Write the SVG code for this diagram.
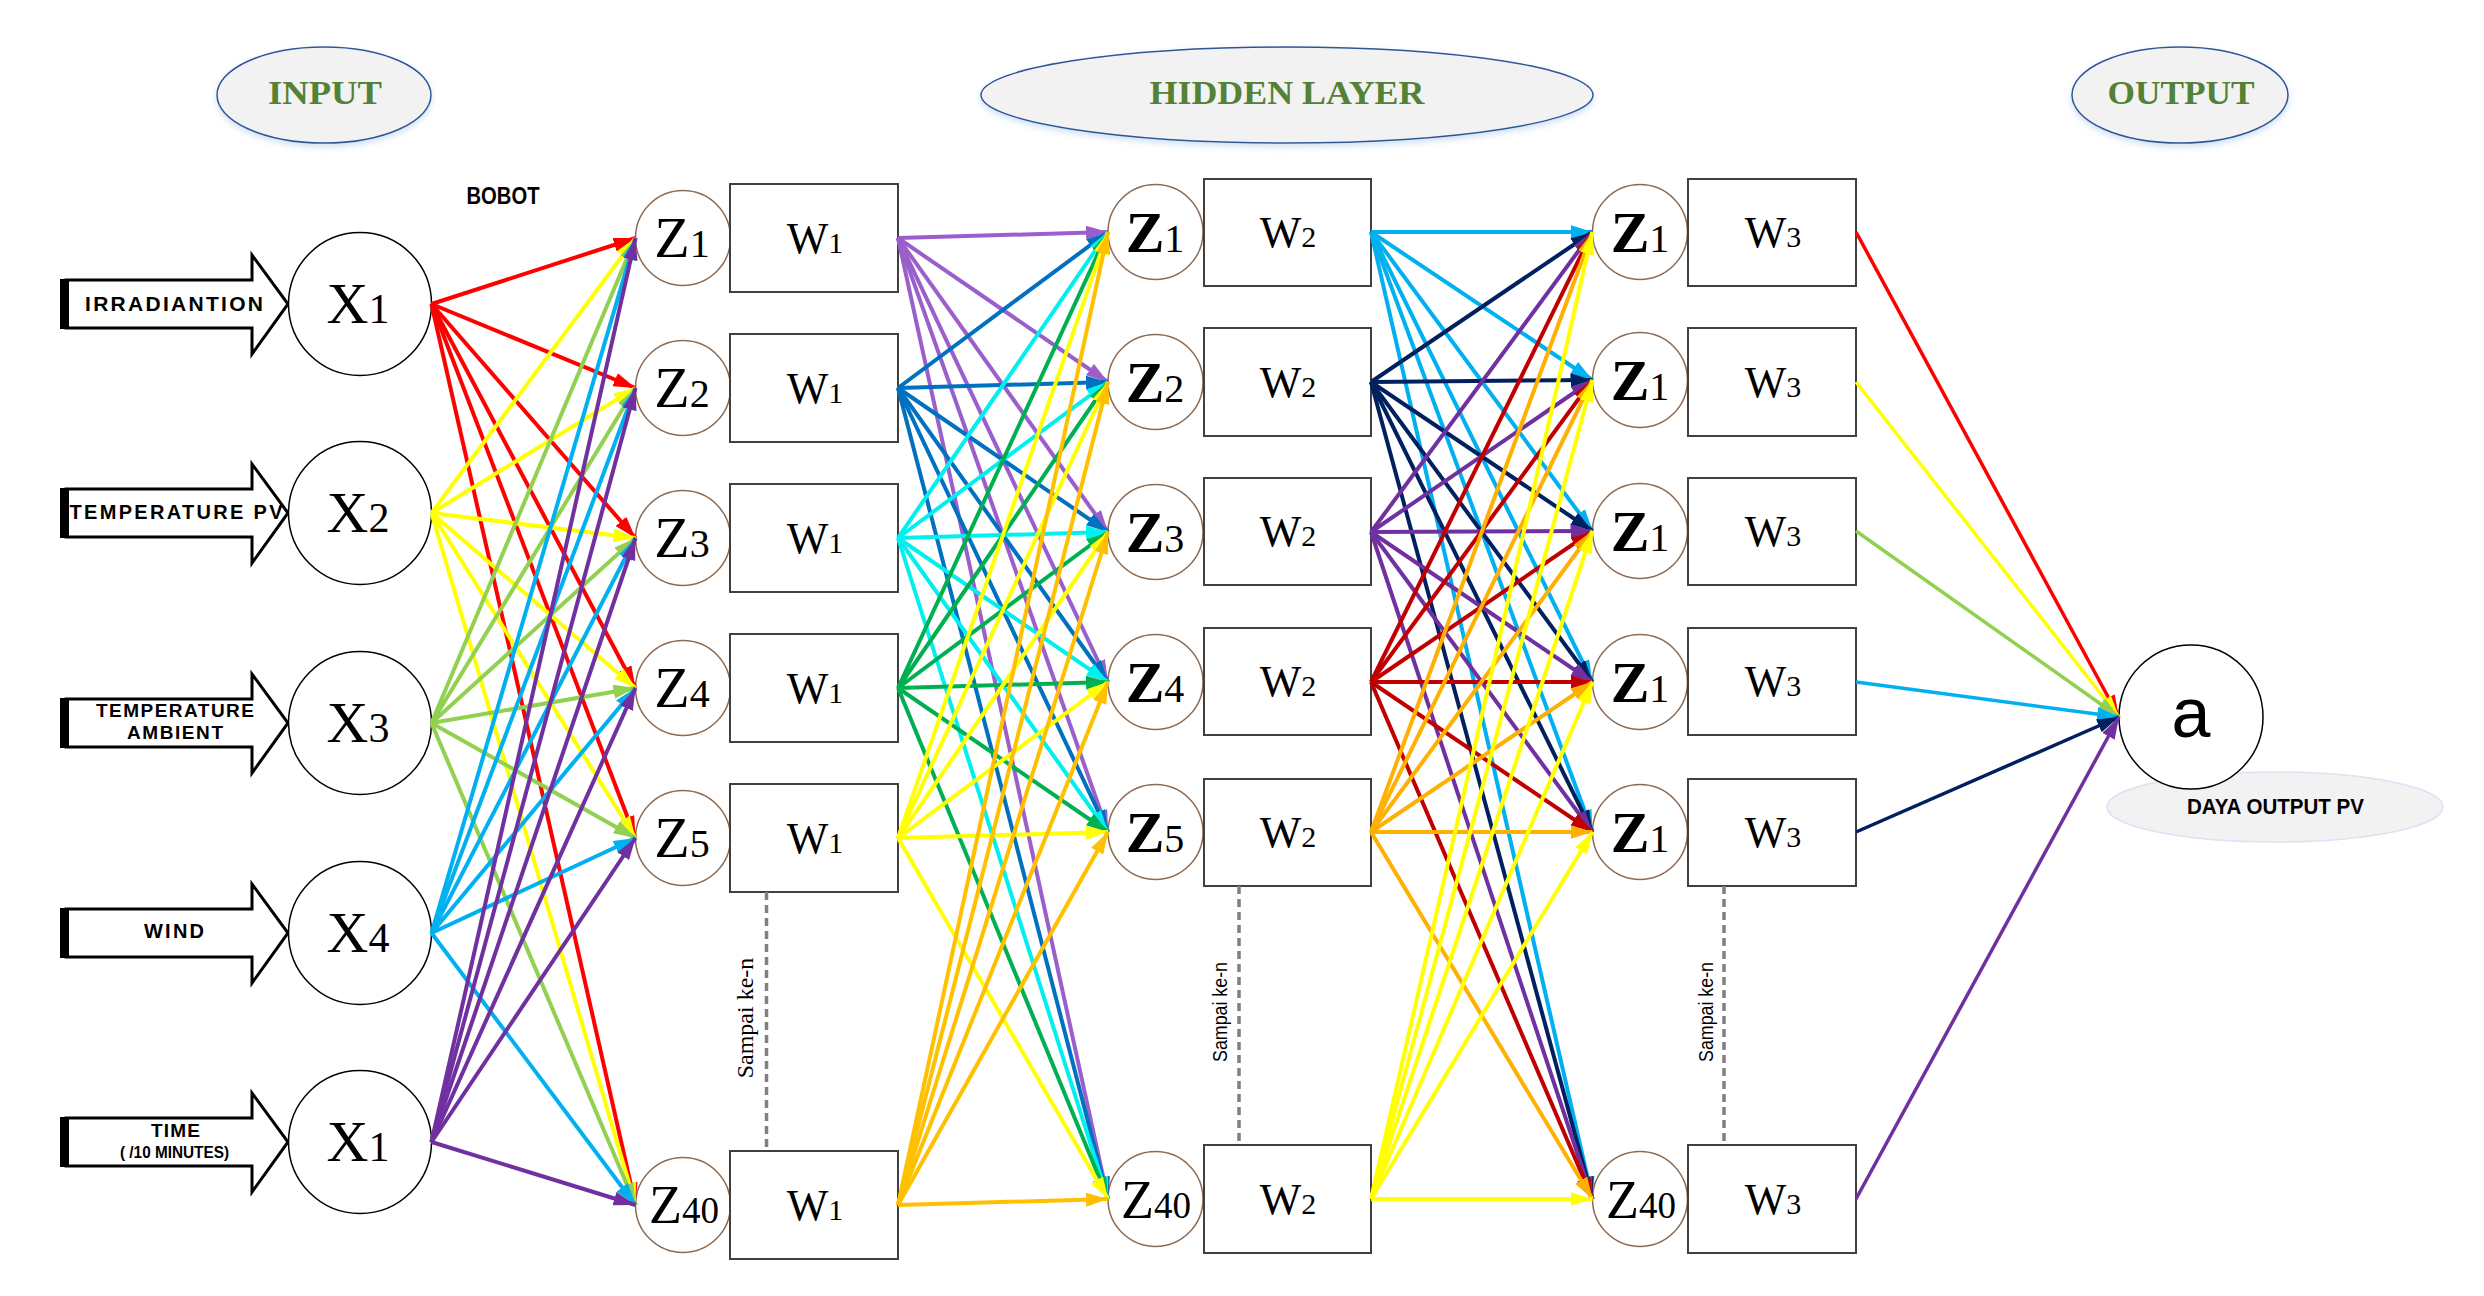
<svg xmlns="http://www.w3.org/2000/svg" xmlns:xlink="http://www.w3.org/1999/xlink" width="2484" height="1296" viewBox="0 0 2484 1296">
<style>
.hdr{fill:#F2F2F2;stroke:#2F5597;stroke-width:1.5}
.hdrt{font-family:"Liberation Serif",serif;font-weight:bold;font-size:33px;fill:#538135;text-anchor:middle}
.xc{fill:#fff;stroke:#000;stroke-width:1.5}
.zc{fill:#fff;stroke:#8E6A50;stroke-width:1.5}
.bx{fill:#fff;stroke:#404040;stroke-width:2}
.xl{font-family:"Liberation Serif",serif;font-size:58px;text-anchor:middle;fill:#000}
.xs{font-size:42px}
.zl{font-family:"Liberation Serif",serif;font-size:58px;text-anchor:middle;fill:#000}
.zb{font-weight:bold;font-size:58px}
.zs{font-size:40px;font-weight:normal}
.z40{font-size:54px}
.z40s{font-size:37px}
.wl{font-family:"Liberation Serif",serif;font-size:44px;text-anchor:middle;fill:#000}
.ws{font-size:30px}
.al{font-family:"Liberation Sans",Arial,sans-serif;font-weight:bold;text-anchor:middle;fill:#000}
.dash{stroke:#808080;stroke-width:3.5;stroke-dasharray:8 5}
.samp1{font-family:"Liberation Serif",serif;font-size:24px;text-anchor:middle;fill:#000}
.samp2{font-family:"Liberation Sans",Arial,sans-serif;font-size:20px;text-anchor:middle;fill:#000}
.conn line{stroke-width:4;fill:none}
.out line{stroke-width:3.5}
.red{stroke:#FF0000;marker-end:url(#m-red)}
.yel{stroke:#FFFF00;marker-end:url(#m-yel)}
.lgr{stroke:#92D050;marker-end:url(#m-lgr)}
.sky{stroke:#00B0F0;marker-end:url(#m-sky)}
.pur{stroke:#7030A0;marker-end:url(#m-pur)}
.mpu{stroke:#9B5FCB;marker-end:url(#m-mpu)}
.blu{stroke:#0070C0;marker-end:url(#m-blu)}
.cya{stroke:#00F0F0;marker-end:url(#m-cya)}
.grn{stroke:#00B050;marker-end:url(#m-grn)}
.org{stroke:#FFC000;marker-end:url(#m-org)}
.nav{stroke:#002060;marker-end:url(#m-nav)}
.drd{stroke:#C00000;marker-end:url(#m-drd)}
.orb{stroke:#FFB000;marker-end:url(#m-orb)}
</style>
<defs>
<filter id="sh" x="-10%" y="-20%" width="120%" height="150%">
<feDropShadow dx="0" dy="3" stdDeviation="3" flood-color="#9DC3E6" flood-opacity="0.5"/>
</filter>
<marker id="m-red" markerUnits="userSpaceOnUse" markerWidth="22" markerHeight="14" viewBox="0 0 22 14" refX="22" refY="7" orient="auto"><path d="M0,0 L22,7 L0,14 z" fill="#FF0000"/></marker>
<marker id="m-yel" markerUnits="userSpaceOnUse" markerWidth="22" markerHeight="14" viewBox="0 0 22 14" refX="22" refY="7" orient="auto"><path d="M0,0 L22,7 L0,14 z" fill="#FFFF00"/></marker>
<marker id="m-lgr" markerUnits="userSpaceOnUse" markerWidth="22" markerHeight="14" viewBox="0 0 22 14" refX="22" refY="7" orient="auto"><path d="M0,0 L22,7 L0,14 z" fill="#92D050"/></marker>
<marker id="m-sky" markerUnits="userSpaceOnUse" markerWidth="22" markerHeight="14" viewBox="0 0 22 14" refX="22" refY="7" orient="auto"><path d="M0,0 L22,7 L0,14 z" fill="#00B0F0"/></marker>
<marker id="m-pur" markerUnits="userSpaceOnUse" markerWidth="22" markerHeight="14" viewBox="0 0 22 14" refX="22" refY="7" orient="auto"><path d="M0,0 L22,7 L0,14 z" fill="#7030A0"/></marker>
<marker id="m-mpu" markerUnits="userSpaceOnUse" markerWidth="22" markerHeight="14" viewBox="0 0 22 14" refX="22" refY="7" orient="auto"><path d="M0,0 L22,7 L0,14 z" fill="#9B5FCB"/></marker>
<marker id="m-blu" markerUnits="userSpaceOnUse" markerWidth="22" markerHeight="14" viewBox="0 0 22 14" refX="22" refY="7" orient="auto"><path d="M0,0 L22,7 L0,14 z" fill="#0070C0"/></marker>
<marker id="m-cya" markerUnits="userSpaceOnUse" markerWidth="22" markerHeight="14" viewBox="0 0 22 14" refX="22" refY="7" orient="auto"><path d="M0,0 L22,7 L0,14 z" fill="#00F0F0"/></marker>
<marker id="m-grn" markerUnits="userSpaceOnUse" markerWidth="22" markerHeight="14" viewBox="0 0 22 14" refX="22" refY="7" orient="auto"><path d="M0,0 L22,7 L0,14 z" fill="#00B050"/></marker>
<marker id="m-org" markerUnits="userSpaceOnUse" markerWidth="22" markerHeight="14" viewBox="0 0 22 14" refX="22" refY="7" orient="auto"><path d="M0,0 L22,7 L0,14 z" fill="#FFC000"/></marker>
<marker id="m-nav" markerUnits="userSpaceOnUse" markerWidth="22" markerHeight="14" viewBox="0 0 22 14" refX="22" refY="7" orient="auto"><path d="M0,0 L22,7 L0,14 z" fill="#002060"/></marker>
<marker id="m-drd" markerUnits="userSpaceOnUse" markerWidth="22" markerHeight="14" viewBox="0 0 22 14" refX="22" refY="7" orient="auto"><path d="M0,0 L22,7 L0,14 z" fill="#C00000"/></marker>
<marker id="m-orb" markerUnits="userSpaceOnUse" markerWidth="22" markerHeight="14" viewBox="0 0 22 14" refX="22" refY="7" orient="auto"><path d="M0,0 L22,7 L0,14 z" fill="#FFB000"/></marker>
<g id="inarrow">
<polygon points="66,-24 252,-24 252,-49 288,0 252,50 252,24 66,24" fill="#fff" stroke="#000" stroke-width="3" stroke-linejoin="miter"/>
<rect x="60" y="-25" width="9" height="50" fill="#000"/>
</g>
</defs>
<rect width="2484" height="1296" fill="#fff"/>

<g id="headers">
<g id="hdr-input"><ellipse class="hdr" cx="324" cy="95" rx="107" ry="48" filter="url(#sh)"/><text class="hdrt" x="325" y="104" textLength="114" lengthAdjust="spacingAndGlyphs">INPUT</text></g>
<g id="hdr-hidden"><ellipse class="hdr" cx="1287" cy="95" rx="306" ry="48" filter="url(#sh)"/><text class="hdrt" x="1287" y="104" textLength="275" lengthAdjust="spacingAndGlyphs">HIDDEN LAYER</text></g>
<g id="hdr-output"><ellipse class="hdr" cx="2180" cy="95" rx="108" ry="48" filter="url(#sh)"/><text class="hdrt" x="2181" y="104" textLength="147" lengthAdjust="spacingAndGlyphs">OUTPUT</text></g>
</g>

<text id="bobot" class="al" x="503" y="204" font-size="23" textLength="73" lengthAdjust="spacingAndGlyphs">BOBOT</text>

<g id="inputs">
<g id="in1"><use xlink:href="#inarrow" href="#inarrow" y="304"/><text class="al" x="174" y="311" font-size="21" textLength="178" lengthAdjust="spacing">IRRADIANTION</text></g>
<g id="in2"><use xlink:href="#inarrow" href="#inarrow" y="513"/><text class="al" x="176" y="519" font-size="20" textLength="213" lengthAdjust="spacing">TEMPERATURE PV</text></g>
<g id="in3"><use xlink:href="#inarrow" href="#inarrow" y="723"/><text class="al" x="175" y="717" font-size="19" textLength="158" lengthAdjust="spacing">TEMPERATURE</text><text class="al" x="175" y="739" font-size="19" textLength="96" lengthAdjust="spacing">AMBIENT</text></g>
<g id="in4"><use xlink:href="#inarrow" href="#inarrow" y="933"/><text class="al" x="174" y="938" font-size="20" textLength="60" lengthAdjust="spacing">WIND</text></g>
<g id="in5"><use xlink:href="#inarrow" href="#inarrow" y="1142"/><text class="al" x="175.5" y="1137" font-size="19" textLength="49" lengthAdjust="spacing">TIME</text><text class="al" x="174.5" y="1158" font-size="17" textLength="109" lengthAdjust="spacingAndGlyphs">( /10 MINUTES)</text></g>
</g>

<g id="x-nodes">
<g id="x1"><circle class="xc" cx="360" cy="304" r="71.5"/><text class="xl" x="358" y="323">X<tspan class="xs">1</tspan></text></g>
<g id="x2"><circle class="xc" cx="360" cy="513" r="71.5"/><text class="xl" x="358" y="532">X<tspan class="xs">2</tspan></text></g>
<g id="x3"><circle class="xc" cx="360" cy="723" r="71.5"/><text class="xl" x="358" y="742">X<tspan class="xs">3</tspan></text></g>
<g id="x4"><circle class="xc" cx="360" cy="933" r="71.5"/><text class="xl" x="358" y="952">X<tspan class="xs">4</tspan></text></g>
<g id="x5"><circle class="xc" cx="360" cy="1142" r="71.5"/><text class="xl" x="358" y="1161">X<tspan class="xs">1</tspan></text></g>
</g>

<g id="layer1">
<g id="l1n1"><circle class="zc" cx="683" cy="238" r="47.5"/><text class="zl" x="682" y="257">Z<tspan class="zs">1</tspan></text><rect class="bx" x="730" y="184" width="168" height="108"/><text class="wl" x="815" y="253">W<tspan class="ws">1</tspan></text></g>
<g id="l1n2"><circle class="zc" cx="683" cy="388" r="47.5"/><text class="zl" x="682" y="407">Z<tspan class="zs">2</tspan></text><rect class="bx" x="730" y="334" width="168" height="108"/><text class="wl" x="815" y="403">W<tspan class="ws">1</tspan></text></g>
<g id="l1n3"><circle class="zc" cx="683" cy="538" r="47.5"/><text class="zl" x="682" y="557">Z<tspan class="zs">3</tspan></text><rect class="bx" x="730" y="484" width="168" height="108"/><text class="wl" x="815" y="553">W<tspan class="ws">1</tspan></text></g>
<g id="l1n4"><circle class="zc" cx="683" cy="688" r="47.5"/><text class="zl" x="682" y="707">Z<tspan class="zs">4</tspan></text><rect class="bx" x="730" y="634" width="168" height="108"/><text class="wl" x="815" y="703">W<tspan class="ws">1</tspan></text></g>
<g id="l1n5"><circle class="zc" cx="683" cy="838" r="47.5"/><text class="zl" x="682" y="857">Z<tspan class="zs">5</tspan></text><rect class="bx" x="730" y="784" width="168" height="108"/><text class="wl" x="815" y="853">W<tspan class="ws">1</tspan></text></g>
<g id="l1n40"><circle class="zc" cx="683" cy="1205" r="47.5"/><text class="zl z40" x="684" y="1223">Z<tspan class="z40s">40</tspan></text><rect class="bx" x="730" y="1151" width="168" height="108"/><text class="wl" x="815" y="1220">W<tspan class="ws">1</tspan></text></g>
<line class="dash" x1="766.5" y1="892" x2="766.5" y2="1151"/>
<text class="samp1" transform="translate(753,1018) rotate(-90)">Sampai ke-n</text>
</g>

<g id="layer2">
<g id="l2n1"><circle class="zc" cx="1155.5" cy="232" r="47.5"/><text class="zl zb" x="1155" y="252">Z<tspan class="zs">1</tspan></text><rect class="bx" x="1204" y="179" width="167" height="107"/><text class="wl" x="1288" y="247">W<tspan class="ws">2</tspan></text></g>
<g id="l2n2"><circle class="zc" cx="1155.5" cy="382" r="47.5"/><text class="zl zb" x="1155" y="402">Z<tspan class="zs">2</tspan></text><rect class="bx" x="1204" y="328" width="167" height="108"/><text class="wl" x="1288" y="397">W<tspan class="ws">2</tspan></text></g>
<g id="l2n3"><circle class="zc" cx="1155.5" cy="532" r="47.5"/><text class="zl zb" x="1155" y="552">Z<tspan class="zs">3</tspan></text><rect class="bx" x="1204" y="478" width="167" height="107"/><text class="wl" x="1288" y="546">W<tspan class="ws">2</tspan></text></g>
<g id="l2n4"><circle class="zc" cx="1155.5" cy="682" r="47.5"/><text class="zl zb" x="1155" y="702">Z<tspan class="zs">4</tspan></text><rect class="bx" x="1204" y="628" width="167" height="107"/><text class="wl" x="1288" y="696">W<tspan class="ws">2</tspan></text></g>
<g id="l2n5"><circle class="zc" cx="1155.5" cy="832" r="47.5"/><text class="zl zb" x="1155" y="852">Z<tspan class="zs">5</tspan></text><rect class="bx" x="1204" y="779" width="167" height="107"/><text class="wl" x="1288" y="847">W<tspan class="ws">2</tspan></text></g>
<g id="l2n40"><circle class="zc" cx="1155.5" cy="1199" r="47.5"/><text class="zl z40" x="1156" y="1218">Z<tspan class="z40s">40</tspan></text><rect class="bx" x="1204" y="1145" width="167" height="108"/><text class="wl" x="1288" y="1214">W<tspan class="ws">2</tspan></text></g>
<line class="dash" x1="1239" y1="886" x2="1239" y2="1145"/>
<text class="samp2" transform="translate(1227,1012) rotate(-90)" textLength="100" lengthAdjust="spacingAndGlyphs">Sampai ke-n</text>
</g>

<g id="layer3">
<g id="l3n1"><circle class="zc" cx="1640" cy="232" r="47.5"/><text class="zl zb" x="1640" y="252">Z<tspan class="zs">1</tspan></text><rect class="bx" x="1688" y="179" width="168" height="107"/><text class="wl" x="1773" y="247">W<tspan class="ws">3</tspan></text></g>
<g id="l3n2"><circle class="zc" cx="1640" cy="380" r="47.5"/><text class="zl zb" x="1640" y="400">Z<tspan class="zs">1</tspan></text><rect class="bx" x="1688" y="328" width="168" height="108"/><text class="wl" x="1773" y="397">W<tspan class="ws">3</tspan></text></g>
<g id="l3n3"><circle class="zc" cx="1640" cy="531" r="47.5"/><text class="zl zb" x="1640" y="551">Z<tspan class="zs">1</tspan></text><rect class="bx" x="1688" y="478" width="168" height="107"/><text class="wl" x="1773" y="546">W<tspan class="ws">3</tspan></text></g>
<g id="l3n4"><circle class="zc" cx="1640" cy="682" r="47.5"/><text class="zl zb" x="1640" y="702">Z<tspan class="zs">1</tspan></text><rect class="bx" x="1688" y="628" width="168" height="107"/><text class="wl" x="1773" y="696">W<tspan class="ws">3</tspan></text></g>
<g id="l3n5"><circle class="zc" cx="1640" cy="832" r="47.5"/><text class="zl zb" x="1640" y="852">Z<tspan class="zs">1</tspan></text><rect class="bx" x="1688" y="779" width="168" height="107"/><text class="wl" x="1773" y="847">W<tspan class="ws">3</tspan></text></g>
<g id="l3n40"><circle class="zc" cx="1640" cy="1199" r="47.5"/><text class="zl z40" x="1641" y="1218">Z<tspan class="z40s">40</tspan></text><rect class="bx" x="1688" y="1145" width="168" height="108"/><text class="wl" x="1773" y="1214">W<tspan class="ws">3</tspan></text></g>
<line class="dash" x1="1724" y1="886" x2="1724" y2="1145"/>
<text class="samp2" transform="translate(1713,1012) rotate(-90)" textLength="100" lengthAdjust="spacingAndGlyphs">Sampai ke-n</text>
</g>

<g id="output-node">
<ellipse cx="2275" cy="807" rx="168" ry="35" fill="#F2F2F2" stroke="#DAE3F3" stroke-width="1.5"/>
<circle class="xc" cx="2191" cy="717" r="72"/>
<text x="2191" y="737" font-family="Liberation Sans,Arial,sans-serif" font-size="70" text-anchor="middle">a</text>
<text class="al" x="2275.5" y="814" font-size="22" textLength="177" lengthAdjust="spacingAndGlyphs">DAYA OUTPUT PV</text>
</g>

<g id="connectors" class="conn">
<g class="red">
<line x1="431.5" y1="304" x2="635.5" y2="238"/><line x1="431.5" y1="304" x2="635.5" y2="388"/><line x1="431.5" y1="304" x2="635.5" y2="538"/><line x1="431.5" y1="304" x2="635.5" y2="688"/><line x1="431.5" y1="304" x2="635.5" y2="838"/><line x1="431.5" y1="304" x2="635.5" y2="1205"/>
</g>
<g class="yel">
<line x1="431.5" y1="513" x2="635.5" y2="238"/><line x1="431.5" y1="513" x2="635.5" y2="388"/><line x1="431.5" y1="513" x2="635.5" y2="538"/><line x1="431.5" y1="513" x2="635.5" y2="688"/><line x1="431.5" y1="513" x2="635.5" y2="838"/><line x1="431.5" y1="513" x2="635.5" y2="1205"/>
</g>
<g class="lgr">
<line x1="431.5" y1="723" x2="635.5" y2="238"/><line x1="431.5" y1="723" x2="635.5" y2="388"/><line x1="431.5" y1="723" x2="635.5" y2="538"/><line x1="431.5" y1="723" x2="635.5" y2="688"/><line x1="431.5" y1="723" x2="635.5" y2="838"/><line x1="431.5" y1="723" x2="635.5" y2="1205"/>
</g>
<g class="sky">
<line x1="431.5" y1="933" x2="635.5" y2="238"/><line x1="431.5" y1="933" x2="635.5" y2="388"/><line x1="431.5" y1="933" x2="635.5" y2="538"/><line x1="431.5" y1="933" x2="635.5" y2="688"/><line x1="431.5" y1="933" x2="635.5" y2="838"/><line x1="431.5" y1="933" x2="635.5" y2="1205"/>
</g>
<g class="pur">
<line x1="431.5" y1="1142" x2="635.5" y2="238"/><line x1="431.5" y1="1142" x2="635.5" y2="388"/><line x1="431.5" y1="1142" x2="635.5" y2="538"/><line x1="431.5" y1="1142" x2="635.5" y2="688"/><line x1="431.5" y1="1142" x2="635.5" y2="838"/><line x1="431.5" y1="1142" x2="635.5" y2="1205"/>
</g>

<g class="mpu">
<line x1="898" y1="238" x2="1108" y2="232"/><line x1="898" y1="238" x2="1108" y2="382"/><line x1="898" y1="238" x2="1108" y2="532"/><line x1="898" y1="238" x2="1108" y2="682"/><line x1="898" y1="238" x2="1108" y2="832"/><line x1="898" y1="238" x2="1108" y2="1199"/>
</g>
<g class="blu">
<line x1="898" y1="388" x2="1108" y2="232"/><line x1="898" y1="388" x2="1108" y2="382"/><line x1="898" y1="388" x2="1108" y2="532"/><line x1="898" y1="388" x2="1108" y2="682"/><line x1="898" y1="388" x2="1108" y2="832"/><line x1="898" y1="388" x2="1108" y2="1199"/>
</g>
<g class="cya">
<line x1="898" y1="538" x2="1108" y2="232"/><line x1="898" y1="538" x2="1108" y2="382"/><line x1="898" y1="538" x2="1108" y2="532"/><line x1="898" y1="538" x2="1108" y2="682"/><line x1="898" y1="538" x2="1108" y2="832"/><line x1="898" y1="538" x2="1108" y2="1199"/>
</g>
<g class="grn">
<line x1="898" y1="688" x2="1108" y2="232"/><line x1="898" y1="688" x2="1108" y2="382"/><line x1="898" y1="688" x2="1108" y2="532"/><line x1="898" y1="688" x2="1108" y2="682"/><line x1="898" y1="688" x2="1108" y2="832"/><line x1="898" y1="688" x2="1108" y2="1199"/>
</g>
<g class="yel">
<line x1="898" y1="838" x2="1108" y2="232"/><line x1="898" y1="838" x2="1108" y2="382"/><line x1="898" y1="838" x2="1108" y2="532"/><line x1="898" y1="838" x2="1108" y2="682"/><line x1="898" y1="838" x2="1108" y2="832"/><line x1="898" y1="838" x2="1108" y2="1199"/>
</g>
<g class="org">
<line x1="898" y1="1205" x2="1108" y2="232"/><line x1="898" y1="1205" x2="1108" y2="382"/><line x1="898" y1="1205" x2="1108" y2="532"/><line x1="898" y1="1205" x2="1108" y2="682"/><line x1="898" y1="1205" x2="1108" y2="832"/><line x1="898" y1="1205" x2="1108" y2="1199"/>
</g>

<g class="sky">
<line x1="1371" y1="232" x2="1592.5" y2="232"/><line x1="1371" y1="232" x2="1592.5" y2="380"/><line x1="1371" y1="232" x2="1592.5" y2="531"/><line x1="1371" y1="232" x2="1592.5" y2="682"/><line x1="1371" y1="232" x2="1592.5" y2="832"/><line x1="1371" y1="232" x2="1592.5" y2="1199"/>
</g>
<g class="nav">
<line x1="1371" y1="382" x2="1592.5" y2="232"/><line x1="1371" y1="382" x2="1592.5" y2="380"/><line x1="1371" y1="382" x2="1592.5" y2="531"/><line x1="1371" y1="382" x2="1592.5" y2="682"/><line x1="1371" y1="382" x2="1592.5" y2="832"/><line x1="1371" y1="382" x2="1592.5" y2="1199"/>
</g>
<g class="pur">
<line x1="1371" y1="532" x2="1592.5" y2="232"/><line x1="1371" y1="532" x2="1592.5" y2="380"/><line x1="1371" y1="532" x2="1592.5" y2="531"/><line x1="1371" y1="532" x2="1592.5" y2="682"/><line x1="1371" y1="532" x2="1592.5" y2="832"/><line x1="1371" y1="532" x2="1592.5" y2="1199"/>
</g>
<g class="drd">
<line x1="1371" y1="682" x2="1592.5" y2="232"/><line x1="1371" y1="682" x2="1592.5" y2="380"/><line x1="1371" y1="682" x2="1592.5" y2="531"/><line x1="1371" y1="682" x2="1592.5" y2="682"/><line x1="1371" y1="682" x2="1592.5" y2="832"/><line x1="1371" y1="682" x2="1592.5" y2="1199"/>
</g>
<g class="orb">
<line x1="1371" y1="832" x2="1592.5" y2="232"/><line x1="1371" y1="832" x2="1592.5" y2="380"/><line x1="1371" y1="832" x2="1592.5" y2="531"/><line x1="1371" y1="832" x2="1592.5" y2="682"/><line x1="1371" y1="832" x2="1592.5" y2="832"/><line x1="1371" y1="832" x2="1592.5" y2="1199"/>
</g>
<g class="yel">
<line x1="1371" y1="1199" x2="1592.5" y2="232"/><line x1="1371" y1="1199" x2="1592.5" y2="380"/><line x1="1371" y1="1199" x2="1592.5" y2="531"/><line x1="1371" y1="1199" x2="1592.5" y2="682"/><line x1="1371" y1="1199" x2="1592.5" y2="832"/><line x1="1371" y1="1199" x2="1592.5" y2="1199"/>
</g>

<g class="out">
<line class="red" x1="1856" y1="232" x2="2119" y2="717"/>
<line class="yel" x1="1856" y1="382" x2="2119" y2="717"/>
<line class="lgr" x1="1856" y1="531" x2="2119" y2="717"/>
<line class="sky" x1="1856" y1="682" x2="2119" y2="717"/>
<line class="nav" x1="1856" y1="832" x2="2119" y2="717"/>
<line class="pur" x1="1856" y1="1199" x2="2119" y2="717"/>
</g>
</g>
</svg>
